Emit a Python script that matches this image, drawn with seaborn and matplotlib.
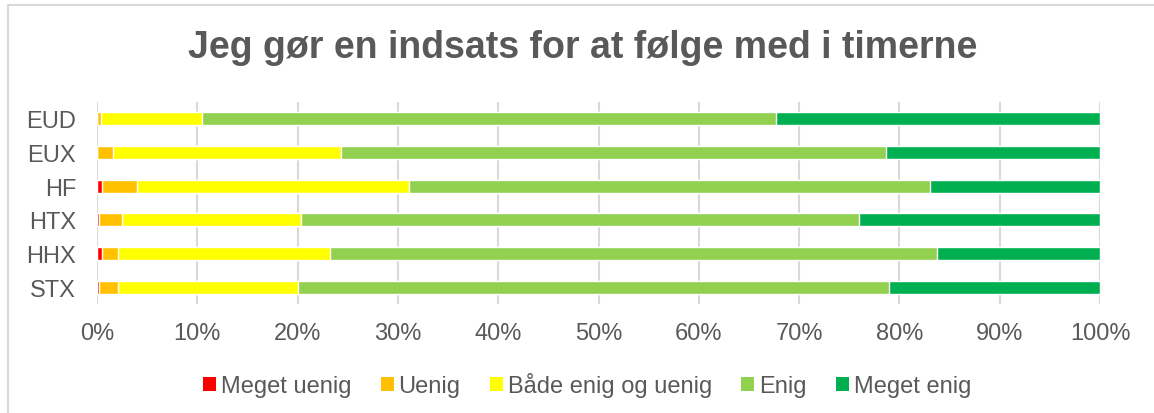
import numpy as np
import pandas as pd
import matplotlib
matplotlib.use("Agg")
import matplotlib.pyplot as plt
import seaborn as sns
from matplotlib.patches import Patch
from matplotlib.lines import Line2D
from matplotlib.ticker import PercentFormatter

# data (percent of answers per school type)
schools = ["EUD", "EUX", "HF", "HTX", "HHX", "STX"]
answers = ["Meget uenig", "Uenig", "Både enig og uenig", "Enig", "Meget enig"]
meget_uenig = [0.0, 0.0, 0.5, 0.2, 0.5, 0.2]
uenig = [0.4, 1.6, 3.5, 2.3, 1.6, 1.9]
baade = [10.1, 22.7, 27.1, 17.8, 21.1, 17.9]
enig = [57.2, 54.4, 52.0, 55.7, 60.5, 59.0]
meget_enig = [32.3, 21.3, 16.9, 24.0, 16.3, 21.0]

colors = ["#FF0000", "#FFC000", "#FFFF00", "#92D050", "#00B050"]
grey = "#595959"

sns.set_theme(style="white")
plt.rcParams['font.family'] = ['Liberation Sans', 'DejaVu Sans']

df = pd.DataFrame({"school": schools})
parts = [meget_uenig, uenig, baade, enig, meget_enig]
cum = np.cumsum(np.array(parts, dtype=float), axis=0) / 100.0
for i, a in enumerate(answers):
    df[a] = cum[i]

fig = plt.figure(figsize=(11.54, 4.14), dpi=100)
ax = fig.add_axes([97 / 1154, 109 / 414, 1003 / 1154, 202 / 414])

# stacked bars: draw the running totals from the largest down
for i in reversed(range(len(answers))):
    sns.barplot(data=df, x=answers[i], y="school", orient="h", color=colors[i],
                width=0.39, saturation=1, ax=ax, zorder=3)

ax.set_xlim(0, 1)
ax.set_xticks(np.arange(0, 1.01, 0.1))
ax.xaxis.set_major_formatter(PercentFormatter(1.0, decimals=0))
ax.set_xlabel("")
ax.set_ylabel("")
ax.grid(axis="x", color="#D9D9D9", linewidth=1.5, zorder=0)
ax.grid(axis="y", visible=False)
for s in ax.spines.values():
    s.set_visible(False)
ax.tick_params(axis="x", length=0, pad=13, labelsize=17, labelcolor=grey)
ax.tick_params(axis="y", length=0, pad=15, labelsize=17, labelcolor=grey)

fig.text(583 / 1154, 1 - 48 / 414, "Jeg gør en indsats for at følge med i timerne",
         ha="center", va="center", fontsize=27, fontweight="bold", color=grey)

handles = [Patch(facecolor=c, edgecolor="none") for c in colors]
leg = fig.legend(handles, answers, loc="center", bbox_to_anchor=(587 / 1154, 1 - 386 / 414),
                 ncol=5, frameon=False, fontsize=17, handlelength=0.55, handleheight=0.55,
                 handletextpad=0.2, columnspacing=1.25, borderpad=0)
for t in leg.get_texts():
    t.set_color(grey)

# chart frame (left and top edges visible in the crop)
fig.add_artist(Line2D([7.5 / 1154, 7.5 / 1154], [0, 1 - 6 / 414], transform=fig.transFigure,
                      color="#D9D9D9", linewidth=1.5))
fig.add_artist(Line2D([7.5 / 1154, 1], [1 - 6 / 414, 1 - 6 / 414], transform=fig.transFigure,
                      color="#D9D9D9", linewidth=1.5))

fig.savefig("out.png", dpi=100)
